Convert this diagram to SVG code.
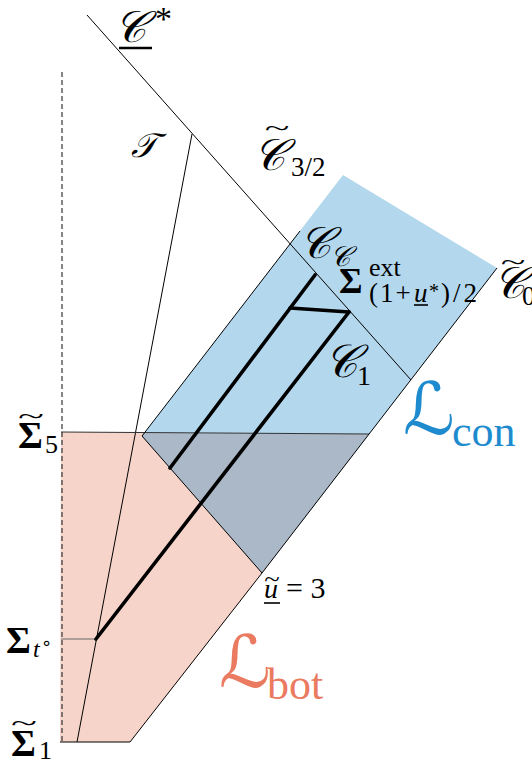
<svg xmlns="http://www.w3.org/2000/svg" width="532" height="764" viewBox="0 0 532 764">
<style>
.thin{stroke:#000;stroke-width:1;fill:none}
.thick{stroke:#000;stroke-width:3.6;fill:none;stroke-linecap:round}
.lbl{font-family:"Liberation Serif","DejaVu Serif",serif;fill:#000}
.scr{font-family:"DejaVu Serif","DejaVu Sans",serif;font-style:italic;fill:#000}
.bold{font-weight:bold}
.it{font-style:italic}
.tl{font-family:"Liberation Serif","DejaVu Serif",serif;fill:#000;text-anchor:middle}
</style>
<rect width="532" height="764" fill="#fff"/>
<g id="regions">
  <polygon id="L_bot_region" points="61,432 369,434 262,573 130,742 60,742" fill="#f7d4ca"/>
  <polygon id="L_con_region" points="343,175 497,268 262,573 142,436" fill="#b3d7ed"/>
  <polygon id="overlap" points="144,433 369,434 262,573 142,436" fill="#abb8c7"/>
</g>
<g id="connectors">
  <line class="thin" x1="87" y1="15" x2="411" y2="380"/>
  <line class="thin" x1="192" y1="134" x2="77" y2="742"/>
  <line x1="62" y1="72" x2="62" y2="742" stroke="#333" stroke-width="1.2" stroke-dasharray="5,3"/>
  <line x1="61" y1="432" x2="369" y2="434" stroke="#333" stroke-width="1"/>
  <line x1="61" y1="639" x2="96" y2="639" stroke="#666" stroke-width="1.2"/>
  <line class="thin" x1="60" y1="742" x2="130" y2="742"/>
  <line class="thin" x1="497" y1="268" x2="262" y2="573"/>
  <line class="thin" x1="262" y1="573" x2="130" y2="742"/>
  <line class="thin" x1="142" y1="436" x2="262" y2="573"/>
  <line class="thin" x1="142" y1="436" x2="300" y2="231"/>
  <line class="thick" x1="315" y1="275" x2="170" y2="468"/>
  <line class="thick" x1="290" y1="308" x2="349" y2="312"/>
  <line class="thick" x1="349" y1="312" x2="96" y2="639"/>
</g>
<g id="label_Cstar">
  <text class="scr" x="114" y="42" font-size="44">𝒞</text>
  <text class="lbl" x="155" y="30" font-size="34">*</text>
  <line x1="119" y1="48" x2="152" y2="48" stroke="#000" stroke-width="2.5"/>
</g>
<g id="label_T"><text class="scr" x="131" y="157" font-size="34">𝒯</text></g>
<g id="label_C32">
  <text class="scr" x="253" y="170" font-size="44">𝒞</text>
  <text class="tl" font-size="24" transform="translate(277,136) scale(1.9,1)">~</text>
  <text class="lbl" x="291" y="176" font-size="27">3/2</text>
</g>
<g id="label_Cc">
  <text class="scr" x="299" y="258" font-size="44">𝒞</text>
  <text class="scr" x="330" y="266" font-size="28">𝒞</text>
</g>
<g id="label_Sigma_ext">
  <text class="lbl bold" x="339" y="293" font-size="36">Σ</text>
  <text class="lbl" x="369" y="276" font-size="26">ext</text>
  <text class="lbl" x="369" y="302" font-size="27" letter-spacing="2">(1+</text>
  <text class="lbl it" x="414" y="302" font-size="27">u</text>
  <text class="lbl" x="429" y="298" font-size="20">*</text>
  <text class="lbl" x="441" y="302" font-size="27" letter-spacing="3">)/2</text>
  <line x1="414" y1="305" x2="428" y2="305" stroke="#000" stroke-width="1.6"/>
</g>
<g id="label_C0">
  <text class="scr" x="493" y="298" font-size="44">𝒞</text>
  <text class="tl" font-size="24" transform="translate(513,270) scale(1.9,1)">~</text>
  <text class="lbl" x="522" y="305" font-size="27">0</text>
</g>
<g id="label_C1">
  <text class="scr" x="324" y="377" font-size="46">𝒞</text>
  <text class="lbl" x="357" y="385" font-size="28">1</text>
</g>
<g id="label_Lcon">
  <text class="scr" x="403" y="434" font-size="72" style="fill:#1e8bcf">ℒ</text>
  <text class="lbl" x="452" y="446" font-size="44" style="fill:#1e8bcf">con</text>
</g>
<g id="label_Sigma5">
  <text class="lbl bold" x="18" y="448" font-size="38">Σ</text>
  <text class="tl" font-size="24" transform="translate(31,424) scale(2,1)">~</text>
  <text class="lbl" x="45" y="453" font-size="26">5</text>
</g>
<g id="label_Sigma_t">
  <text class="lbl bold" x="6" y="653" font-size="38">Σ</text>
  <text class="lbl it" x="33" y="657" font-size="24">t</text>
  <text x="41" y="649" font-size="18" font-family="DejaVu Sans, sans-serif">∘</text>
</g>
<g id="label_u3">
  <text class="lbl it" x="264" y="598" font-size="28">u</text>
  <text class="tl" font-size="22" transform="translate(272,586) scale(1.3,1)">~</text>
  <line x1="264" y1="603" x2="280" y2="603" stroke="#000" stroke-width="1.6"/>
  <text class="lbl" x="286" y="598" font-size="30">= 3</text>
</g>
<g id="label_Lbot">
  <text class="scr" x="219" y="687" font-size="72" style="fill:#ea7a60">ℒ</text>
  <text class="lbl" x="267" y="699" font-size="44" style="fill:#ea7a60">bot</text>
</g>
<g id="label_Sigma1">
  <text class="lbl bold" x="11" y="756" font-size="38">Σ</text>
  <text class="tl" font-size="24" transform="translate(24,731) scale(2,1)">~</text>
  <text class="lbl" x="39" y="759" font-size="26">1</text>
</g>
</svg>
